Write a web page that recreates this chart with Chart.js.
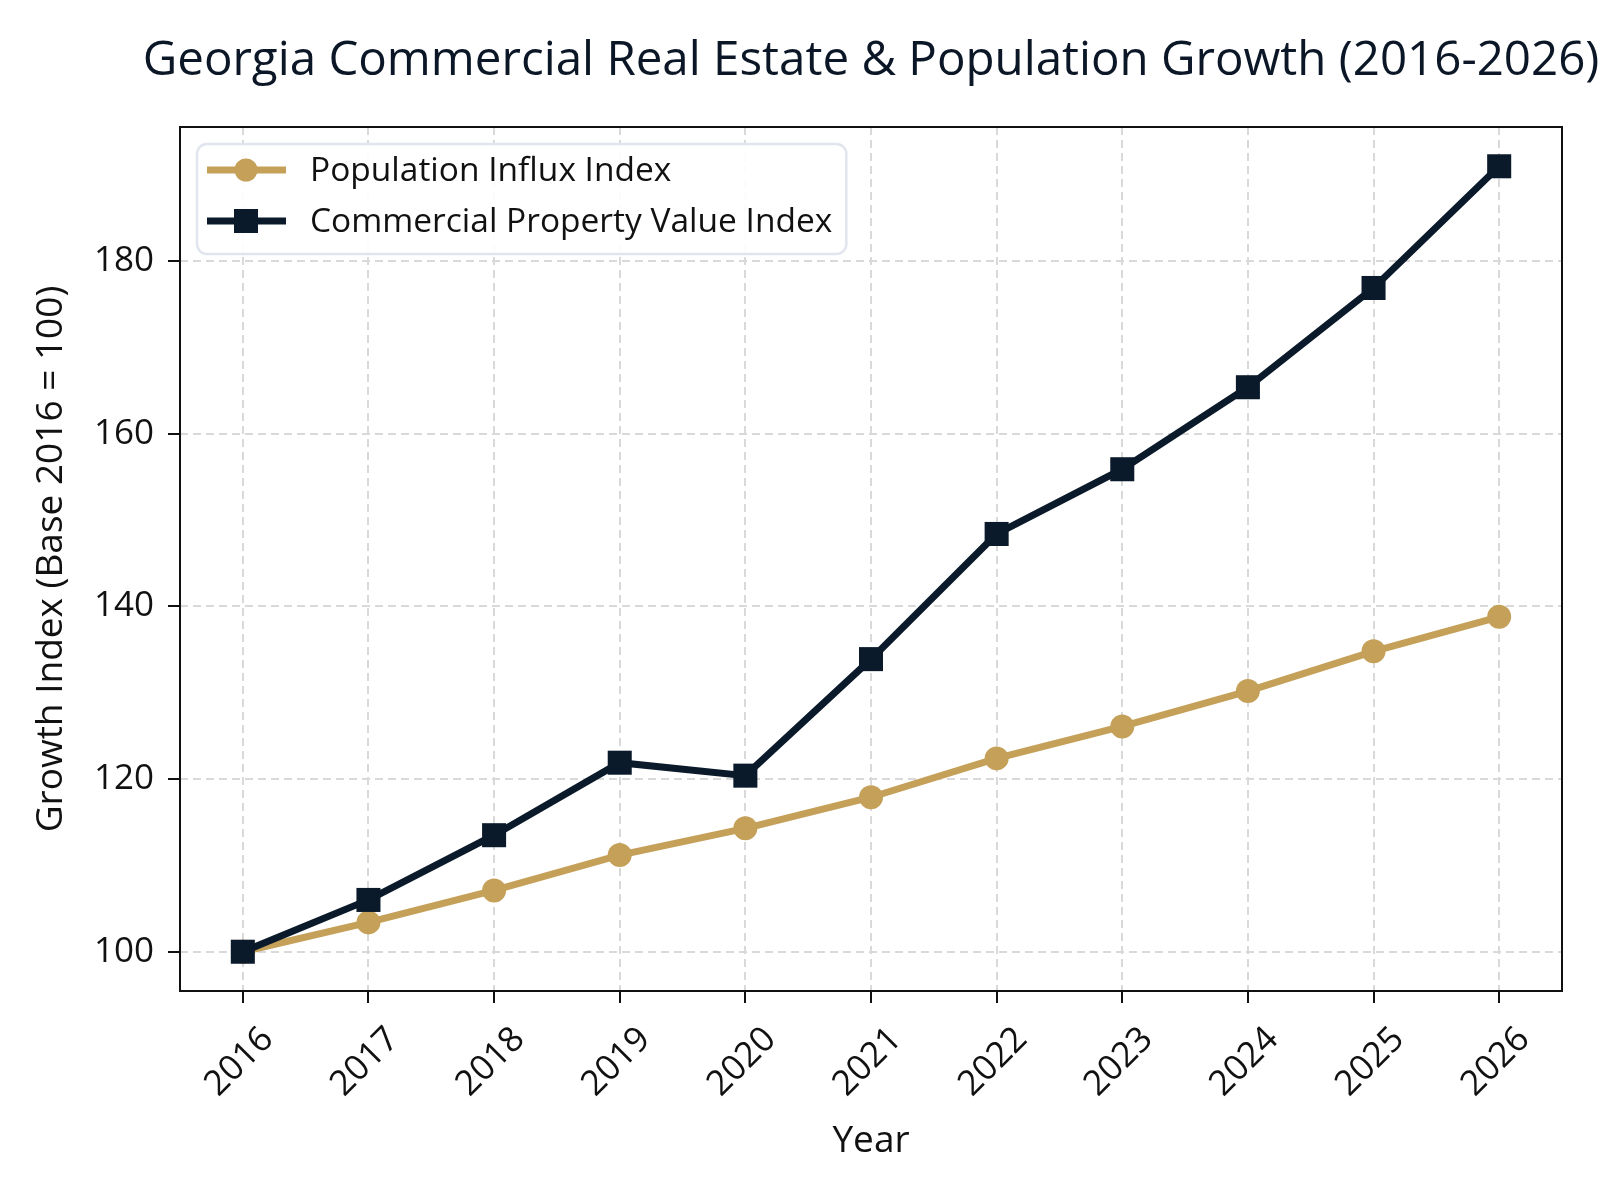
<!DOCTYPE html>
<html>
<head>
<meta charset="utf-8">
<title>Georgia Commercial Real Estate & Population Growth</title>
<script src="https://cdn.jsdelivr.net/npm/chart.js@4.4.1/dist/chart.umd.min.js"></script>
<style>
  html, body { margin: 0; padding: 0; background: #ffffff; }
  #chart { display: block; }
</style>
</head>
<body>
<canvas id="chart" width="1600" height="1200"></canvas>
<script>
// data
const years = ['2016', '2017', '2018', '2019', '2020', '2021', '2022', '2023', '2024', '2025', '2026'];
const populationInflux = [100, 103.4, 107.1, 111.2, 114.3, 117.9, 122.4, 126.1, 130.2, 134.8, 138.8];
const commercialValue = [100, 106.0, 113.5, 121.9, 120.4, 133.9, 148.4, 155.9, 165.4, 176.9, 191.0];
const yTicks = [100, 120, 140, 160, 180];
const chartTitle = 'Georgia Commercial Real Estate & Population Growth (2016-2026)';

const GOLD = '#c5a059';
const NAVY = '#0b1a2a';
const FONT = "'Open Sans', sans-serif";

// title centred over the plot area; it is wider than the plot so the
// built-in title (which squeezes to the box) is not used
const plotTitle = {
    id: 'plotTitle',
    afterDraw(chart) {
        const ctx = chart.ctx;
        const a = chart.chartArea;
        ctx.save();
        ctx.font = '47.5px ' + FONT;
        ctx.fillStyle = '#0b1726';
        ctx.textAlign = 'center';
        ctx.textBaseline = 'middle';
        ctx.fillText(chartTitle, (a.left + a.right) / 2, 61);
        ctx.restore();
    }
};

// legend drawn inside the plot, line + marker like the original
const insideLegend = {
    id: 'insideLegend',
    afterDraw(chart) {
        const ctx = chart.ctx;
        const area = chart.chartArea;
        const sets = chart.data.datasets;
        ctx.save();
        ctx.font = '33.5px ' + FONT;
        let maxW = 0;
        sets.forEach(ds => { maxW = Math.max(maxW, ctx.measureText(ds.label).width); });
        const x0 = area.left + 17, y0 = area.top + 17;
        const w = 113 + maxW + 14, h = 110;
        ctx.beginPath();
        ctx.roundRect(x0, y0, w, h, 10);
        ctx.fillStyle = 'rgba(255,255,255,0.92)';
        ctx.fill();
        ctx.lineWidth = 2.5;
        ctx.strokeStyle = '#e1e6ee';
        ctx.stroke();
        sets.forEach((ds, i) => {
            const cy = y0 + 26 + i * 51;
            ctx.beginPath();
            ctx.moveTo(x0 + 10, cy);
            ctx.lineTo(x0 + 89, cy);
            ctx.lineWidth = ds.borderWidth;
            ctx.strokeStyle = ds.borderColor;
            ctx.stroke();
            ctx.fillStyle = ds.borderColor;
            if (ds.pointStyle === 'rect') {
                ctx.fillRect(x0 + 49 - 12, cy - 12, 24, 24);
            } else {
                ctx.beginPath();
                ctx.arc(x0 + 49, cy, 11.5, 0, Math.PI * 2);
                ctx.fill();
            }
            ctx.fillStyle = '#111111';
            ctx.textBaseline = 'middle';
            ctx.textAlign = 'left';
            ctx.fillText(ds.label, x0 + 113, cy + 1);
        });
        ctx.restore();
    }
};

// black frame round the whole plot area
const frame = {
    id: 'frame',
    afterDraw(chart) {
        const a = chart.chartArea;
        const ctx = chart.ctx;
        ctx.save();
        ctx.lineWidth = 2;
        ctx.strokeStyle = '#111111';
        ctx.strokeRect(a.left, a.top, a.right - a.left, a.bottom - a.top);
        ctx.restore();
    }
};

const ctx = document.getElementById('chart').getContext('2d');
const chart = new Chart(ctx, {
    type: 'line',
    data: {
        labels: years,
        datasets: [{
                label: 'Population Influx Index',
                data: populationInflux,
                borderColor: GOLD,
                backgroundColor: GOLD,
                borderWidth: 7,
                pointStyle: 'circle',
                pointRadius: 12,
                pointBorderWidth: 0,
                order: 1,
                fill: false
            },
            {
                label: 'Commercial Property Value Index',
                data: commercialValue,
                borderColor: NAVY,
                backgroundColor: NAVY,
                borderWidth: 7,
                pointStyle: 'rect',
                pointRadius: 17,
                pointBorderWidth: 0,
                order: 0,
                fill: false
            }
        ]
    },
    options: {
        responsive: false,
        animation: false,
        devicePixelRatio: 1,
        layout: {
            padding: { left: 0, right: 38, top: 127, bottom: 0 }
        },
        scales: {
            x: {
                offset: true,
                grid: {
                    color: '#d9d9d9',
                    lineWidth: 2,
                    offset: false,
                    tickLength: 12,
                    tickColor: '#111111',
                    tickWidth: 2,
                    tickBorderDash: []
                },
                border: { display: false, dash: [8, 5] },
                ticks: {
                    autoSkip: false,
                    minRotation: 45,
                    maxRotation: 45,
                    padding: 16,
                    labelOffset: 25,
                    color: '#111111',
                    font: { family: FONT, size: 35 }
                },
                title: {
                    display: true,
                    text: 'Year',
                    color: '#111111',
                    font: { family: FONT, size: 37 },
                    padding: { top: 0, bottom: 36 }
                },
                afterFit(scale) { scale.height = 209; }
            },
            y: {
                min: 95.45,
                max: 195.55,
                afterBuildTicks(scale) {
                    scale.ticks = yTicks.map(v => ({ value: v }));
                },
                grid: {
                    color: '#d9d9d9',
                    lineWidth: 2,
                    tickLength: 12,
                    tickColor: '#111111',
                    tickWidth: 2,
                    tickBorderDash: []
                },
                border: { display: false, dash: [8, 5] },
                ticks: {
                    padding: 14,
                    color: '#111111',
                    font: { family: FONT, size: 35 }
                },
                title: {
                    display: true,
                    text: 'Growth Index (Base 2016 = 100)',
                    color: '#111111',
                    font: { family: FONT, size: 37 },
                    padding: { top: 29, bottom: 0 }
                },
                afterFit(scale) { scale.width = 180; }
            }
        },
        plugins: {
            legend: { display: false },
            tooltip: { enabled: false },
            title: { display: false }
        }
    },
    plugins: [plotTitle, insideLegend, frame]
});
</script>
</body>
</html>
